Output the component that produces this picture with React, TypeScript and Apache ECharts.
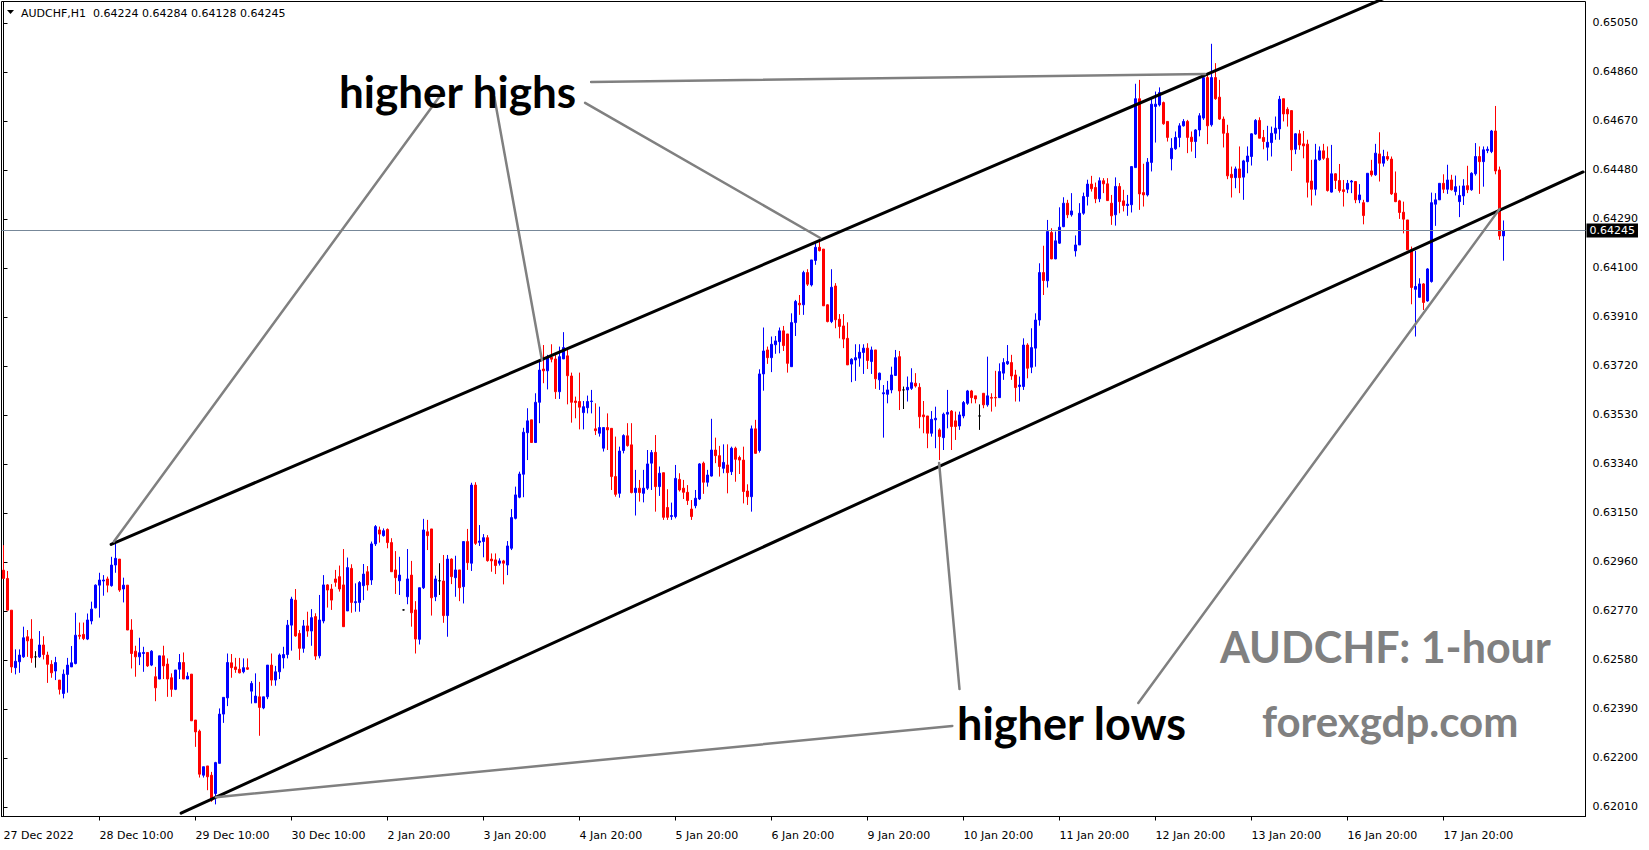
import React, { useEffect, useRef } from 'react';
import * as echarts from 'echarts';

const SYMBOL = 'AUDCHF,H1';

const opens = [
0.62928,0.62896,0.62773,0.62550,0.62573,0.62592,0.62670,0.62661,0.62592,0.62592,
0.62638,0.62599,0.62563,0.62537,0.62502,0.62450,0.62524,0.62553,0.62566,0.62676,
0.62679,0.62661,0.62731,0.62782,0.62870,0.62886,0.62894,0.62868,0.62948,0.62971,
0.62855,0.62870,0.62696,0.62614,0.62592,0.62605,0.62609,0.62560,0.62515,0.62506,
0.62596,0.62564,0.62511,0.62466,0.62544,0.62570,0.62506,0.62525,0.62347,0.62304,
0.62133,0.62169,0.62133,0.62062,0.62179,0.62370,0.62433,0.62569,0.62553,0.62544,
0.62534,0.62550,0.62459,0.62414,0.62437,0.62394,0.62437,0.62560,0.62502,0.62534,
0.62588,0.62601,0.62715,0.62812,0.62683,0.62625,0.62712,0.62692,0.62748,0.62596,
0.62731,0.62871,0.62855,0.62894,0.62903,0.62871,0.62770,0.62935,0.62802,0.62803,
0.62868,0.62922,0.62890,0.63030,0.63084,0.63062,0.63086,0.63035,0.62929,0.62887,
0.62774,0.62825,0.62909,0.62774,0.62660,0.62860,0.63077,0.63088,0.62825,0.62887,
0.62886,0.62752,0.62971,0.62899,0.62929,0.62864,0.63039,0.62955,0.63258,0.63036,
0.63039,0.63054,0.62971,0.62968,0.62955,0.62964,0.62948,0.63013,0.63129,0.63211,
0.63300,0.63461,0.63511,0.63423,0.63579,0.63708,0.63701,0.63754,0.63747,0.63620,
0.63747,0.63759,0.63681,0.63584,0.63582,0.63539,0.63558,0.63582,0.63476,0.63459,
0.63401,0.63481,0.63478,0.63291,0.63226,0.63392,0.63449,0.63414,0.63229,0.63246,
0.63226,0.63246,0.63343,0.63385,0.63252,0.63306,0.63171,0.63136,0.63136,0.63280,
0.63246,0.63230,0.63165,0.63178,0.63204,0.63343,0.63269,0.63293,0.63394,0.63372,
0.63323,0.63336,0.63310,0.63401,0.63365,0.63355,0.63235,0.63213,0.63476,0.63392,
0.63689,0.63782,0.63752,0.63802,0.63814,0.63856,0.63844,0.63717,0.63888,0.63963,
0.63957,0.64082,0.64034,0.64129,0.64180,0.64173,0.63957,0.63892,0.64030,0.63901,
0.63875,0.63827,0.63727,0.63743,0.63750,0.63772,0.63789,0.63737,0.63782,0.63666,
0.63612,0.63610,0.63627,0.63683,0.63756,0.63627,0.63627,0.63633,0.63653,0.63637,
0.63530,0.63526,0.63459,0.63511,0.63472,0.63442,0.63533,0.63545,0.63507,0.63487,
0.63526,0.63575,0.63623,0.63604,0.63526,0.63614,0.63569,0.63598,0.63598,0.63597,
0.63692,0.63728,0.63733,0.63685,0.63640,0.63640,0.63801,0.63715,0.63789,0.63898,
0.64082,0.64050,0.64237,0.64135,0.64196,0.64260,0.64351,0.64306,0.64166,0.64189,
0.64312,0.64377,0.64425,0.64412,0.64368,0.64438,0.64426,0.64351,0.64306,0.64416,
0.64360,0.64342,0.64345,0.64489,0.64756,0.64392,0.64383,0.64509,0.64726,0.64732,
0.64741,0.64668,0.64523,0.64562,0.64606,0.64651,0.64668,0.64607,0.64590,0.64635,
0.64681,0.64838,0.64655,0.64838,0.64762,0.64677,0.64622,0.64463,0.64450,0.64484,
0.64452,0.64512,0.64532,0.64619,0.64672,0.64606,0.64568,0.64586,0.64622,0.64639,
0.64756,0.64715,0.64710,0.64560,0.64620,0.64581,0.64580,0.64437,0.64405,0.64519,
0.64554,0.64525,0.64394,0.64465,0.64439,0.64403,0.64405,0.64433,0.64435,0.64364,
0.64353,0.64357,0.64476,0.64461,0.64542,0.64506,0.64532,0.64522,0.64390,0.64360,
0.64316,0.64286,0.64170,0.64017,0.63986,0.64038,0.63972,0.64047,0.64347,0.64364,
0.64428,0.64405,0.64441,0.64396,0.64357,0.64379,0.64419,0.64403,0.64465,0.64532,
0.64512,0.64555,0.64551,0.64631,0.64480,0.64224
];

const highs = [
0.63025,0.62925,0.62773,0.62621,0.62621,0.62709,0.62696,0.62738,0.62614,0.62692,
0.62672,0.62612,0.62579,0.62592,0.62502,0.62543,0.62588,0.62634,0.62763,0.62725,
0.62725,0.62760,0.62806,0.62873,0.62918,0.62909,0.62903,0.62980,0.63032,0.62971,
0.62899,0.62870,0.62738,0.62635,0.62666,0.62631,0.62609,0.62618,0.62553,0.62596,
0.62635,0.62586,0.62528,0.62541,0.62603,0.62609,0.62532,0.62525,0.62347,0.62310,
0.62166,0.62169,0.62146,0.62185,0.62392,0.62435,0.62605,0.62603,0.62588,0.62588,
0.62586,0.62586,0.62498,0.62528,0.62495,0.62437,0.62560,0.62605,0.62557,0.62605,
0.62631,0.62735,0.62825,0.62855,0.62696,0.62735,0.62767,0.62777,0.62761,0.62832,
0.62909,0.62874,0.62874,0.62929,0.62946,0.63010,0.62977,0.62951,0.62877,0.62886,
0.62952,0.62944,0.63039,0.63103,0.63097,0.63090,0.63090,0.63052,0.63002,0.62980,
0.62776,0.63010,0.62964,0.62808,0.62860,0.63127,0.63123,0.63088,0.62907,0.62955,
0.62987,0.62987,0.62974,0.62984,0.62929,0.63039,0.63088,0.63267,0.63269,0.63103,
0.63068,0.63064,0.62993,0.62993,0.62974,0.62968,0.63041,0.63165,0.63252,0.63310,
0.63480,0.63556,0.63511,0.63614,0.63743,0.63801,0.63763,0.63804,0.63769,0.63795,
0.63851,0.63782,0.63694,0.63601,0.63694,0.63584,0.63605,0.63627,0.63575,0.63562,
0.63481,0.63536,0.63478,0.63446,0.63407,0.63455,0.63498,0.63498,0.63317,0.63278,
0.63317,0.63394,0.63394,0.63452,0.63330,0.63306,0.63242,0.63190,0.63336,0.63304,
0.63278,0.63258,0.63200,0.63239,0.63343,0.63349,0.63317,0.63515,0.63442,0.63410,
0.63416,0.63416,0.63407,0.63407,0.63372,0.63407,0.63261,0.63489,0.63511,0.63707,
0.63869,0.63795,0.63834,0.63836,0.63869,0.63875,0.63844,0.63924,0.63976,0.63995,
0.64089,0.64095,0.64131,0.64200,0.64209,0.64173,0.63959,0.64095,0.64041,0.63921,
0.63921,0.63889,0.63750,0.63804,0.63804,0.63804,0.63808,0.63795,0.63782,0.63694,
0.63646,0.63662,0.63717,0.63782,0.63778,0.63640,0.63679,0.63711,0.63692,0.63653,
0.63584,0.63526,0.63545,0.63562,0.63478,0.63539,0.63627,0.63549,0.63543,0.63543,
0.63584,0.63627,0.63627,0.63604,0.63571,0.63614,0.63756,0.63614,0.63701,0.63730,
0.63750,0.63801,0.63763,0.63705,0.63679,0.63827,0.63808,0.63866,0.63924,0.64118,
0.64186,0.64286,0.64254,0.64241,0.64335,0.64374,0.64364,0.64390,0.64226,0.64351,
0.64392,0.64442,0.64457,0.64431,0.64451,0.64448,0.64448,0.64383,0.64451,0.64429,
0.64403,0.64383,0.64493,0.64814,0.64829,0.64504,0.64526,0.64758,0.64784,0.64800,
0.64745,0.64668,0.64603,0.64629,0.64661,0.64677,0.64674,0.64629,0.64638,0.64700,
0.64845,0.64855,0.64969,0.64894,0.64829,0.64687,0.64655,0.64493,0.64493,0.64571,
0.64519,0.64571,0.64622,0.64677,0.64684,0.64635,0.64651,0.64648,0.64687,0.64767,
0.64756,0.64723,0.64710,0.64622,0.64635,0.64631,0.64597,0.64519,0.64581,0.64571,
0.64581,0.64571,0.64577,0.64467,0.64503,0.64441,0.64441,0.64441,0.64437,0.64425,
0.64364,0.64467,0.64519,0.64581,0.64626,0.64558,0.64551,0.64532,0.64474,0.64364,
0.64357,0.64286,0.64183,0.64166,0.64060,0.64041,0.64099,0.64392,0.64390,0.64428,
0.64463,0.64500,0.64461,0.64458,0.64419,0.64444,0.64496,0.64471,0.64584,0.64571,
0.64571,0.64571,0.64635,0.64728,0.64493,0.64284
];

const lows = [
0.62896,0.62773,0.62530,0.62524,0.62530,0.62588,0.62592,0.62569,0.62550,0.62588,
0.62582,0.62491,0.62511,0.62502,0.62446,0.62431,0.62453,0.62553,0.62563,0.62660,
0.62657,0.62657,0.62718,0.62780,0.62744,0.62829,0.62842,0.62864,0.62918,0.62844,
0.62803,0.62696,0.62547,0.62515,0.62560,0.62534,0.62553,0.62556,0.62420,0.62506,
0.62506,0.62437,0.62437,0.62463,0.62506,0.62506,0.62506,0.62344,0.62243,0.62124,
0.62124,0.62075,0.62030,0.62020,0.62179,0.62336,0.62401,0.62511,0.62530,0.62528,
0.62528,0.62541,0.62411,0.62414,0.62286,0.62389,0.62428,0.62480,0.62480,0.62506,
0.62547,0.62586,0.62616,0.62670,0.62580,0.62608,0.62670,0.62635,0.62580,0.62586,
0.62722,0.62783,0.62774,0.62864,0.62845,0.62709,0.62770,0.62763,0.62767,0.62767,
0.62812,0.62849,0.62871,0.63022,0.63035,0.63058,0.63013,0.62922,0.62836,0.62832,
0.62772,0.62796,0.62709,0.62605,0.62640,0.62855,0.63006,0.62752,0.62808,0.62832,
0.62724,0.62670,0.62874,0.62825,0.62808,0.62799,0.62929,0.62925,0.63026,0.63022,
0.62978,0.62961,0.62922,0.62913,0.62946,0.62873,0.62909,0.63006,0.63125,0.63207,
0.63211,0.63355,0.63423,0.63423,0.63498,0.63653,0.63629,0.63734,0.63592,0.63592,
0.63747,0.63571,0.63500,0.63517,0.63474,0.63474,0.63536,0.63536,0.63452,0.63446,
0.63388,0.63394,0.63239,0.63213,0.63209,0.63381,0.63407,0.63226,0.63140,0.63194,
0.63191,0.63239,0.63239,0.63155,0.63216,0.63123,0.63123,0.63123,0.63129,0.63233,
0.63204,0.63181,0.63123,0.63168,0.63200,0.63224,0.63252,0.63291,0.63343,0.63291,
0.63304,0.63226,0.63297,0.63271,0.63301,0.63187,0.63181,0.63155,0.63381,0.63384,
0.63624,0.63728,0.63696,0.63767,0.63769,0.63778,0.63694,0.63717,0.63836,0.63918,
0.63918,0.64030,0.64028,0.64112,0.64164,0.63953,0.63889,0.63886,0.63866,0.63827,
0.63789,0.63724,0.63657,0.63662,0.63717,0.63689,0.63708,0.63689,0.63631,0.63627,
0.63442,0.63575,0.63614,0.63681,0.63549,0.63553,0.63582,0.63627,0.63636,0.63478,
0.63459,0.63401,0.63446,0.63401,0.63355,0.63394,0.63478,0.63394,0.63433,0.63472,
0.63517,0.63569,0.63575,0.63575,0.63472,0.63556,0.63562,0.63543,0.63562,0.63597,
0.63666,0.63724,0.63666,0.63582,0.63582,0.63627,0.63672,0.63692,0.63717,0.63876,
0.63995,0.64024,0.64134,0.64134,0.64193,0.64258,0.64293,0.64299,0.64144,0.64189,
0.64306,0.64342,0.64396,0.64351,0.64355,0.64390,0.64360,0.64267,0.64264,0.64312,
0.64319,0.64302,0.64315,0.64489,0.64325,0.64338,0.64377,0.64474,0.64586,0.64726,
0.64655,0.64590,0.64478,0.64558,0.64568,0.64648,0.64545,0.64551,0.64526,0.64610,
0.64674,0.64580,0.64648,0.64752,0.64674,0.64567,0.64444,0.64373,0.64409,0.64390,
0.64364,0.64467,0.64497,0.64616,0.64603,0.64560,0.64516,0.64532,0.64597,0.64597,
0.64668,0.64648,0.64476,0.64541,0.64558,0.64525,0.64373,0.64342,0.64381,0.64516,
0.64519,0.64396,0.64392,0.64406,0.64392,0.64338,0.64390,0.64390,0.64351,0.64351,
0.64269,0.64355,0.64454,0.64457,0.64435,0.64493,0.64515,0.64383,0.64355,0.64290,
0.64234,0.64170,0.63959,0.63834,0.63986,0.63937,0.63969,0.64043,0.64263,0.64364,
0.64390,0.64387,0.64400,0.64381,0.64297,0.64344,0.64390,0.64399,0.64458,0.64387,
0.64415,0.64545,0.64545,0.64463,0.64209,0.64128
];

const closes = [
0.62896,0.62773,0.62553,0.62575,0.62599,0.62666,0.62654,0.62588,0.62592,0.62638,
0.62601,0.62563,0.62530,0.62570,0.62466,0.62525,0.62560,0.62569,0.62676,0.62672,
0.62663,0.62735,0.62777,0.62870,0.62890,0.62890,0.62870,0.62948,0.62974,0.62851,
0.62870,0.62696,0.62605,0.62592,0.62608,0.62609,0.62557,0.62614,0.62472,0.62596,
0.62557,0.62506,0.62466,0.62541,0.62570,0.62506,0.62517,0.62344,0.62301,0.62137,
0.62166,0.62127,0.62036,0.62182,0.62370,0.62435,0.62570,0.62550,0.62543,0.62530,
0.62550,0.62544,0.62489,0.62440,0.62396,0.62437,0.62560,0.62502,0.62534,0.62599,
0.62601,0.62715,0.62816,0.62673,0.62625,0.62712,0.62692,0.62744,0.62595,0.62735,
0.62871,0.62851,0.62812,0.62881,0.62855,0.62709,0.62938,0.62803,0.62806,0.62880,
0.62913,0.62871,0.63030,0.63097,0.63068,0.63081,0.63035,0.62922,0.62899,0.62909,
0.62774,0.62894,0.62763,0.62661,0.62860,0.63084,0.63062,0.62821,0.62894,0.62887,
0.62752,0.62971,0.62903,0.62929,0.62860,0.63039,0.62957,0.63258,0.63032,0.63041,
0.63054,0.62965,0.62964,0.62946,0.62964,0.62955,0.63022,0.63132,0.63220,0.63301,
0.63463,0.63507,0.63423,0.63579,0.63704,0.63701,0.63754,0.63746,0.63620,0.63756,
0.63791,0.63682,0.63579,0.63578,0.63560,0.63562,0.63582,0.63584,0.63469,0.63481,
0.63481,0.63472,0.63291,0.63222,0.63390,0.63450,0.63411,0.63229,0.63246,0.63229,
0.63246,0.63340,0.63384,0.63252,0.63304,0.63133,0.63133,0.63140,0.63284,0.63239,
0.63230,0.63198,0.63136,0.63207,0.63340,0.63269,0.63297,0.63394,0.63372,0.63330,
0.63346,0.63306,0.63401,0.63358,0.63355,0.63233,0.63213,0.63476,0.63381,0.63689,
0.63778,0.63752,0.63804,0.63817,0.63856,0.63799,0.63730,0.63888,0.63970,0.63957,
0.64082,0.64037,0.64131,0.64180,0.64167,0.63953,0.63892,0.64025,0.63899,0.63873,
0.63824,0.63724,0.63746,0.63752,0.63773,0.63789,0.63741,0.63782,0.63670,0.63692,
0.63616,0.63627,0.63685,0.63752,0.63623,0.63627,0.63637,0.63655,0.63642,0.63523,
0.63523,0.63459,0.63513,0.63517,0.63446,0.63533,0.63540,0.63485,0.63485,0.63530,
0.63578,0.63623,0.63597,0.63592,0.63526,0.63569,0.63604,0.63595,0.63596,0.63698,
0.63733,0.63737,0.63681,0.63636,0.63646,0.63801,0.63711,0.63791,0.63898,0.64082,
0.64051,0.64241,0.64135,0.64205,0.64258,0.64351,0.64306,0.64321,0.64189,0.64312,
0.64377,0.64425,0.64407,0.64368,0.64438,0.64426,0.64361,0.64302,0.64416,0.64357,
0.64342,0.64347,0.64493,0.64756,0.64387,0.64383,0.64510,0.64735,0.64735,0.64780,
0.64659,0.64606,0.64564,0.64606,0.64651,0.64668,0.64606,0.64590,0.64635,0.64690,
0.64838,0.64651,0.64838,0.64756,0.64677,0.64622,0.64457,0.64450,0.64484,0.64450,
0.64515,0.64534,0.64620,0.64672,0.64603,0.64590,0.64587,0.64622,0.64642,0.64754,
0.64697,0.64697,0.64558,0.64620,0.64577,0.64573,0.64432,0.64405,0.64519,0.64554,
0.64525,0.64400,0.64465,0.64439,0.64400,0.64396,0.64428,0.64437,0.64364,0.64383,
0.64303,0.64467,0.64461,0.64545,0.64506,0.64532,0.64522,0.64387,0.64357,0.64315,
0.64289,0.64170,0.64024,0.64028,0.64038,0.63966,0.64096,0.64353,0.64364,0.64428,
0.64405,0.64441,0.64403,0.64415,0.64381,0.64418,0.64403,0.64467,0.64532,0.64512,
0.64558,0.64560,0.64631,0.64476,0.64224,0.64245
];

const tickBars = [0, 24, 48, 72, 96, 120, 144, 168, 192, 216, 240, 264, 288, 312, 336, 360];
const tickLabels = ['27 Dec 2022', '28 Dec 10:00', '29 Dec 10:00', '30 Dec 10:00', '2 Jan 20:00', '3 Jan 20:00', '4 Jan 20:00', '5 Jan 20:00', '6 Jan 20:00', '9 Jan 20:00', '10 Jan 20:00', '11 Jan 20:00', '12 Jan 20:00', '13 Jan 20:00', '16 Jan 20:00', '17 Jan 20:00'];
const priceTicks = [0.62010, 0.62200, 0.62390, 0.62580, 0.62770, 0.62960, 0.63150, 0.63340, 0.63530, 0.63720, 0.63910, 0.64100, 0.64290, 0.64480, 0.64670, 0.64860, 0.65050];
const SLOT_COUNT = 396;
const Y_MIN = 0.61973;
const Y_MAX = 0.65133;
const bidPrice = 0.64245;

// trend lines: [bar index, price] pairs
const channelLines = [
  [[26.9, 0.63028], [360, 0.65244]],
  [[44.4, 0.61986], [394.9, 0.64472]],
];
const higherHighLines = [
  [[146.9, 0.64821], [300.4, 0.64852]],
  [[145.4, 0.64740], [204.2, 0.64216]],
  [[122.7, 0.64763], [134.6, 0.63743]],
  [[109.7, 0.64779], [27.6, 0.63039]],
];
const higherLowLines = [
  [[237.2, 0.62324], [53.1, 0.62048]],
  [[239.0, 0.62467], [233.9, 0.63344]],
  [[283.7, 0.62413], [374.0, 0.64328]],
];

const AXIS_FONT = 'DejaVu Sans';
const NOTE_FONT = 'Lato';

export default function App() {
  const ref = useRef<HTMLDivElement>(null);
  useEffect(() => {
    if (!ref.current) return;
    const chart = echarts.init(ref.current, undefined, { renderer: 'svg' });
    const categories = Array.from({ length: SLOT_COUNT }, (_, i) => String(i));
    const candles = opens.map((o, i) => [o, closes[i], lows[i], highs[i]]);
    const last = opens.length - 1;
    const header = `${SYMBOL}\u00a0\u00a0${opens[last].toFixed(5)} ${highs[last].toFixed(5)} ${lows[last].toFixed(5)} ${closes[last].toFixed(5)}`;

    const lineSeries = (pts: number[][], color: string, width: number) => ({
      type: 'line',
      xAxisIndex: 1,
      yAxisIndex: 0,
      data: pts,
      symbol: 'none',
      silent: true,
      clip: true,
      z: 5,
      lineStyle: { color, width, type: 'solid', cap: 'round' },
    });

    const noteText = (text: string, x: number, y: number, size: number, color: string) => ({
      type: 'text',
      x,
      y,
      z: 100,
      silent: true,
      style: {
        text,
        fill: color,
        fontSize: size,
        fontWeight: 'bold',
        fontFamily: NOTE_FONT,
        align: 'left',
        verticalAlign: 'middle',
        textAlign: 'left',
        textVerticalAlign: 'middle',
      },
    });

    chart.setOption({
      animation: false,
      backgroundColor: '#ffffff',
      grid: {
        left: 1.5,
        top: 1.5,
        width: 1584,
        height: 815,
        show: true,
        borderColor: '#000000',
        borderWidth: 1,
        backgroundColor: '#ffffff',
        containLabel: false,
      },
      xAxis: [
        {
          type: 'category',
          data: categories,
          boundaryGap: true,
          axisLine: { show: true, lineStyle: { color: '#000000', width: 1 } },
          axisTick: {
            show: true,
            alignWithLabel: true,
            length: 4,
            interval: (i: number) => i > 0 && tickBars.includes(i),
            lineStyle: { color: '#000000' },
          },
          axisLabel: {
            interval: (i: number) => tickBars.includes(i),
            formatter: (_v: string, i: number) => {
              const k = tickBars.indexOf(i);
              return k >= 0 ? tickLabels[k] : '';
            },
            align: 'left',
            color: '#000000',
            fontSize: 11,
            fontFamily: AXIS_FONT,
            margin: 13,
          },
          splitLine: { show: false },
        },
        {
          type: 'value',
          min: -0.5,
          max: SLOT_COUNT - 0.5,
          show: false,
          splitLine: { show: false },
        },
      ],
      yAxis: [
        {
          type: 'value',
          position: 'right',
          min: Y_MIN,
          max: Y_MAX,
          scale: true,
          axisLine: { show: true, lineStyle: { color: '#000000', width: 1 } },
          axisTick: { show: true, length: 4, customValues: priceTicks, lineStyle: { color: '#000000' } },
          axisLabel: {
            customValues: priceTicks,
            formatter: (v: number) => v.toFixed(5),
            color: '#000000',
            fontSize: 11,
            fontFamily: AXIS_FONT,
            margin: 7,
          },
          splitLine: { show: false },
        },
      ],
      series: [
        {
          type: 'candlestick',
          xAxisIndex: 0,
          yAxisIndex: 0,
          data: candles,
          barWidth: 2,
          z: 3,
          itemStyle: {
            color: '#0000ff',
            color0: '#ff0000',
            borderColor: '#0000ff',
            borderColor0: '#ff0000',
            borderColorDoji: '#000000',
            borderWidth: 1,
          },
          markLine: {
            silent: true,
            precision: 5,
            symbol: ['none', 'none'],
            lineStyle: { color: '#778899', width: 1, type: 'solid' },
            label: {
              show: true,
              position: 'end',
              distance: 1,
              formatter: (p: any) => Number(p.value).toFixed(5),
              backgroundColor: '#000000',
              color: '#ffffff',
              fontSize: 11,
              fontFamily: AXIS_FONT,
              padding: [2, 3, 1, 3],
            },
            data: [{ yAxis: bidPrice }],
          },
        },
        ...channelLines.map((l) => lineSeries(l, '#000000', 3)),
        ...higherHighLines.map((l) => lineSeries(l, '#808080', 2.5)),
        ...higherLowLines.map((l) => lineSeries(l, '#808080', 2.5)),
      ],
      graphic: [
        {
          type: 'polygon',
          silent: true,
          shape: { points: [[7, 10], [14, 10], [10.5, 14]] },
          style: { fill: '#000000' },
        },
        {
          type: 'text',
          x: 21,
          y: 13,
          silent: true,
          style: {
            text: header,
            fill: '#000000',
            fontSize: 11,
            fontFamily: AXIS_FONT,
            align: 'left',
            verticalAlign: 'middle',
            textAlign: 'left',
            textVerticalAlign: 'middle',
          },
        },
        noteText('higher highs', 339, 91, 44, '#000000'),
        noteText('higher lows', 957, 723, 45, '#000000'),
        noteText('AUDCHF: 1-hour', 1220, 646, 43, '#808080'),
        noteText('forexgdp.com', 1262, 721, 42, '#808080'),
      ],
    });
    return () => chart.dispose();
  }, []);
  return <div ref={ref} style={{ position: 'fixed', left: 0, top: 0, width: 1649, height: 850 }} />;
}
